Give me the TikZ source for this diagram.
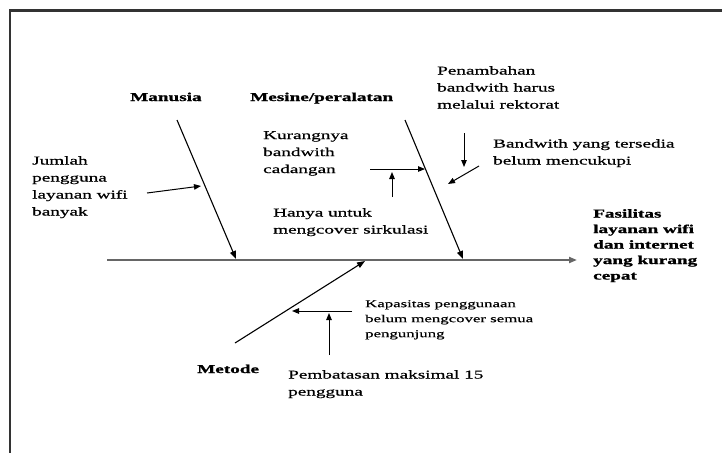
\documentclass[tikz,border=0pt]{standalone}
\usepackage{fontspec}
\setmainfont{Liberation Serif}[FakeStretch=1.6, UprightFeatures={FakeBold=0.6}, BoldFeatures={FakeBold=1.2}]
\usetikzlibrary{arrows.meta}

\begin{document}
\begin{tikzpicture}[x=1pt, y=-1pt,
	every node/.style={inner sep=0pt, align=left},
	txt/.style={font=\fontsize{12}{17}\selectfont},
	head/.style={font=\bfseries\fontsize{12}{15.5}\selectfont},
	small/.style={font=\fontsize{10.5}{15}\selectfont},
	spine/.style={line width=2pt, black!60, -{Triangle[length=8pt,width=6pt]}},
	bone/.style={line width=1.1pt, -{Triangle[length=8pt,width=6pt]}},
	cause/.style={line width=1pt, -{Triangle[length=7pt,width=5.5pt]}}]
	\useasboundingbox (0,0) rectangle (722,453);
	\draw[line width=2.5pt, black!80] (722,10.5) -- (10,10.5) -- (10,453);

	% spine and effect
	\coordinate (tail) at (107,260);
	\coordinate (head) at (577,260);
	\draw[spine] (tail) -- (head);
	\node[head, anchor=north west] (effect) at (593,209) {Fasilitas\\layanan wifi\\dan internet\\yang kurang\\cepat};

	% bones
	\node[head, anchor=base west] (manusia) at (130,101) {Manusia};
	\node[head, anchor=base west] (mesin) at (250,101) {Mesine/peralatan};
	\node[head, anchor=base west] (metode) at (197,373) {Metode};
	\coordinate (manTop) at (177,120);
	\coordinate (manEnd) at (236,259);
	\coordinate (mesTop) at (405,120);
	\coordinate (mesEnd) at (463,259);
	\coordinate (metBot) at (235,343);
	\coordinate (metEnd) at (365,261);
	\draw[bone] (manTop) -- (manEnd);
	\draw[bone] (mesTop) -- (mesEnd);
	\draw[bone] (metBot) -- (metEnd);

	% causes on Manusia
	\node[txt, anchor=north west] (jumlah) at (32,156) {Jumlah\\pengguna\\layanan wifi\\banyak};
	\coordinate (jumA) at (147,193);
	\coordinate (jumB) at (201,186);
	\draw[cause] (jumA) -- (jumB);

	% causes on Mesine/peralatan
	\node[txt, anchor=north west] (kurang) at (263,131) {Kurangnya\\bandwith\\cadangan};
	\node[txt, anchor=north west] (hanya) at (273,208) {Hanya untuk\\mengcover sirkulasi};
	\node[txt, anchor=north west] (tambah) at (437,66) {Penambahan\\bandwith harus\\melalui rektorat};
	\node[txt, anchor=north west] (tersedia) at (493,139) {Bandwith yang tersedia\\belum mencukupi};
	\coordinate (kurA) at (370,169);
	\coordinate (kurB) at (425,169);
	\coordinate (hanA) at (392,197);
	\coordinate (hanB) at (392,172);
	\coordinate (tamA) at (464,133);
	\coordinate (tamB) at (464,167);
	\coordinate (sedA) at (479,166);
	\coordinate (sedB) at (448,184);
	\draw[cause] (kurA) -- (kurB);
	\draw[cause] (hanA) -- (hanB);
	\draw[cause] (tamA) -- (tamB);
	\draw[cause] (sedA) -- (sedB);

	% causes on Metode
	\node[small, anchor=north west] (kapasitas) at (365,300) {Kapasitas penggunaan\\belum mengcover semua\\pengunjung};
	\node[txt, anchor=north west] (batas) at (288,370) {Pembatasan maksimal 15\\pengguna};
	\coordinate (kapA) at (352,311);
	\coordinate (kapB) at (292,311);
	\coordinate (batA) at (329,355);
	\coordinate (batB) at (329,313);
	\draw[cause] (kapA) -- (kapB);
	\draw[cause] (batA) -- (batB);
\end{tikzpicture}
\end{document}
